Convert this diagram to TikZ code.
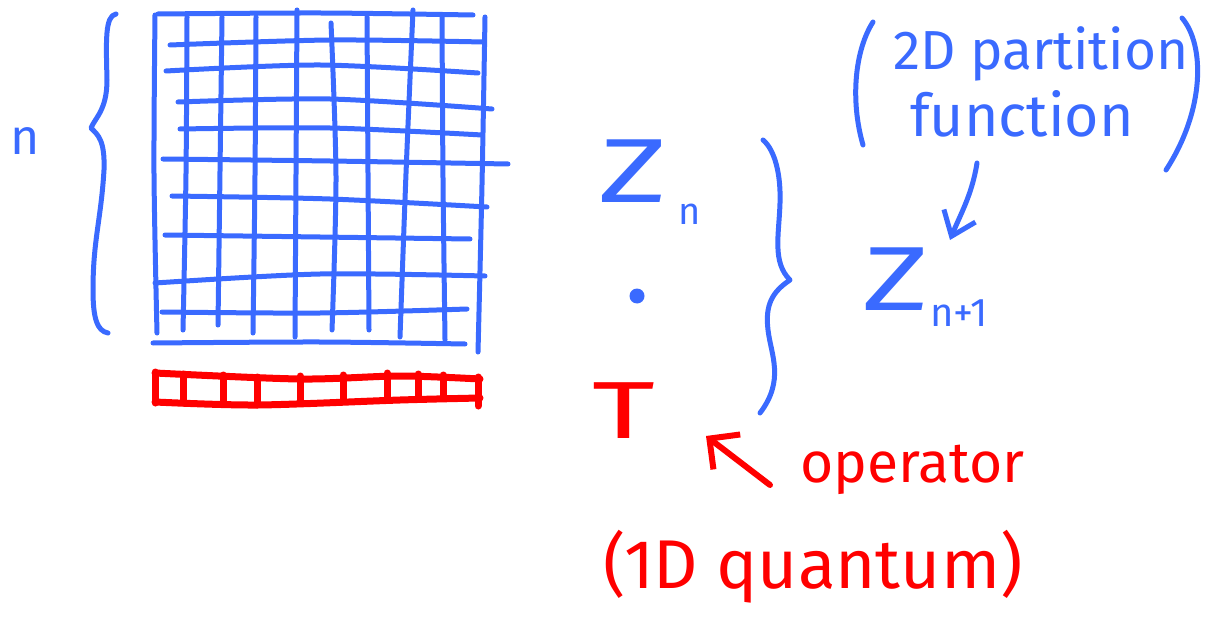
\documentclass[tikz,border=0pt]{standalone}
\usepackage{fontspec}
\setmainfont{Fira Sans}
\usetikzlibrary{arrows.meta}
\definecolor{pen}{RGB}{58,106,255}
\definecolor{redpen}{RGB}{255,0,0}
\begin{document}
\begin{tikzpicture}[x=1pt,y=-1pt,
  gridline/.style={pen, line width=5pt, line cap=round, line join=round},
  stripline/.style={redpen, line width=7pt, line cap=round, line join=round},
  bluestroke/.style={pen, line width=5pt, line cap=round, line join=round},
  redstroke/.style={redpen, line width=6pt, line cap=round, line join=round},
  lbl/.style={inner sep=0pt, outer sep=0pt, anchor=base west},
  bluetxt/.style={lbl, text=pen},
  redtxt/.style={lbl, text=redpen}]
\useasboundingbox (0,0) rectangle (1214,628);
% ---- lattice (2D) ----
\foreach \xa/\ya/\xm/\ym/\xb/\yb in {
  158/14/320/13/473/15,
  170/45/330/40/483/42,
  166/71/320/65/478/73,
  178/102/330/99/492/109,
  180/129/330/128/482/135,
  163/159/330/161/508/164,
  172/196/330/199/487/207,
  165/235/320/237/470/239,
  155/283/320/274/485/276,
  162/312/320/313/467/309,
  153/343/320/342/465/344}
  \draw[gridline] plot[smooth] coordinates {(\xa,\ya) (\xm,\ym) (\xb,\yb)};
\foreach \xa/\ya/\xm/\xb/\yb in {
  155/15/154/157/333,
  187/17/186/183/330,
  222/17/220/218/325,
  256/17/255/253/333,
  297/10/296/295/337,
  331/23/336/332/330,
  367/17/368/369/330,
  413/10/406/400/337,
  442/17/443/445/340,
  485/17/482/478/352}
  \draw[gridline] plot[smooth] coordinates {(\xa,\ya) (\xm,{(\ya+\yb)/2}) (\xb,\yb)};
% ---- red strip (1D) ----
\draw[stripline] plot[smooth] coordinates {(155,373) (300,379) (400,376) (480,379)};
\draw[stripline] plot[smooth] coordinates {(155,402) (257,405) (400,400) (480,398)};
\draw[stripline] (155,372) -- (155,403);
\draw[stripline] (478,377) -- (478,406);
\foreach \x/\ya/\yb in {183/374/403, 223/375/404, 257/377/405, 300/376/402, 343/375/401, 387/373/400, 418/374/399, 443/375/398}
  \draw[stripline] (\x,\ya) -- (\x,\yb);
% ---- left brace and n ----
\draw[bluestroke] (116,14) .. controls (105,16) and (106,40) .. (107,80)
  .. controls (107,110) and (95,118) .. (91,128)
  .. controls (98,135) and (105,140) .. (104,170)
  .. controls (101,220) and (93,240) .. (93,290)
  .. controls (93,318) and (97,331) .. (108,333);
\node[bluetxt, font=\fontsize{50}{50}\selectfont] (nlab) at (10,155) {n};
% ---- Z_n . T ----
\node[bluetxt, font=\fontsize{91}{91}\selectfont] (zn) at (598,203) {\scalebox{1.45}[1]{Z}};
\node[bluetxt, font=\fontsize{38}{38}\selectfont] (znsub) at (678,225) {n};
\fill[pen] (637,296) circle[radius=7.5pt];
\node[redtxt, font=\fontsize{81}{81}\selectfont] (tee) at (592,438) {\scalebox{1.5}[1]{T}};
% ---- right brace ----
\draw[bluestroke] (763,140) .. controls (775,150) and (781,175) .. (780,203)
  .. controls (779,235) and (772,262) .. (790,280)
  .. controls (772,292) and (765,305) .. (768,330)
  .. controls (771,355) and (785,380) .. (760,413);
% ---- Z_{n+1} ----
\node[bluetxt, font=\fontsize{91}{91}\selectfont] (zn1) at (862,310) {\scalebox{1.4}[1]{Z}};
\node[bluetxt, font=\fontsize{40}{40}\selectfont] (zn1sub) at (930,326) {n+1};
% ---- (2D partition function) ----
\draw[bluestroke] (873,22) .. controls (855,50) and (850,100) .. (863,145);
\draw[bluestroke] (1182,18) .. controls (1205,45) and (1205,110) .. (1166,170);
\node[bluetxt, font=\fontsize{55}{55}\selectfont] (part) at (893,70) {2D partition};
\node[bluetxt, font=\fontsize{59}{59}\selectfont] (func) at (910,137) {function};
\coordinate (fa) at (977,163);
\coordinate (fb) at (950,240);
\draw[bluestroke, -{Straight Barb[length=22pt, width=34pt]}] (fa) .. controls (972,195) and (960,215) .. (fb);
% ---- operator (1D quantum) ----
\node[redtxt, font=\fontsize{57}{57}\selectfont] (oper) at (800,482) {operator};
\node[redtxt, font=\fontsize{69}{69}\selectfont] (quant) at (603,588) {(1D quantum)};
\coordinate (oa) at (770,485);
\coordinate (ob) at (706,436);
\draw[redstroke, -{Straight Barb[length=22pt, width=44pt]}] (oa) -- (ob);
\end{tikzpicture}
\end{document}
